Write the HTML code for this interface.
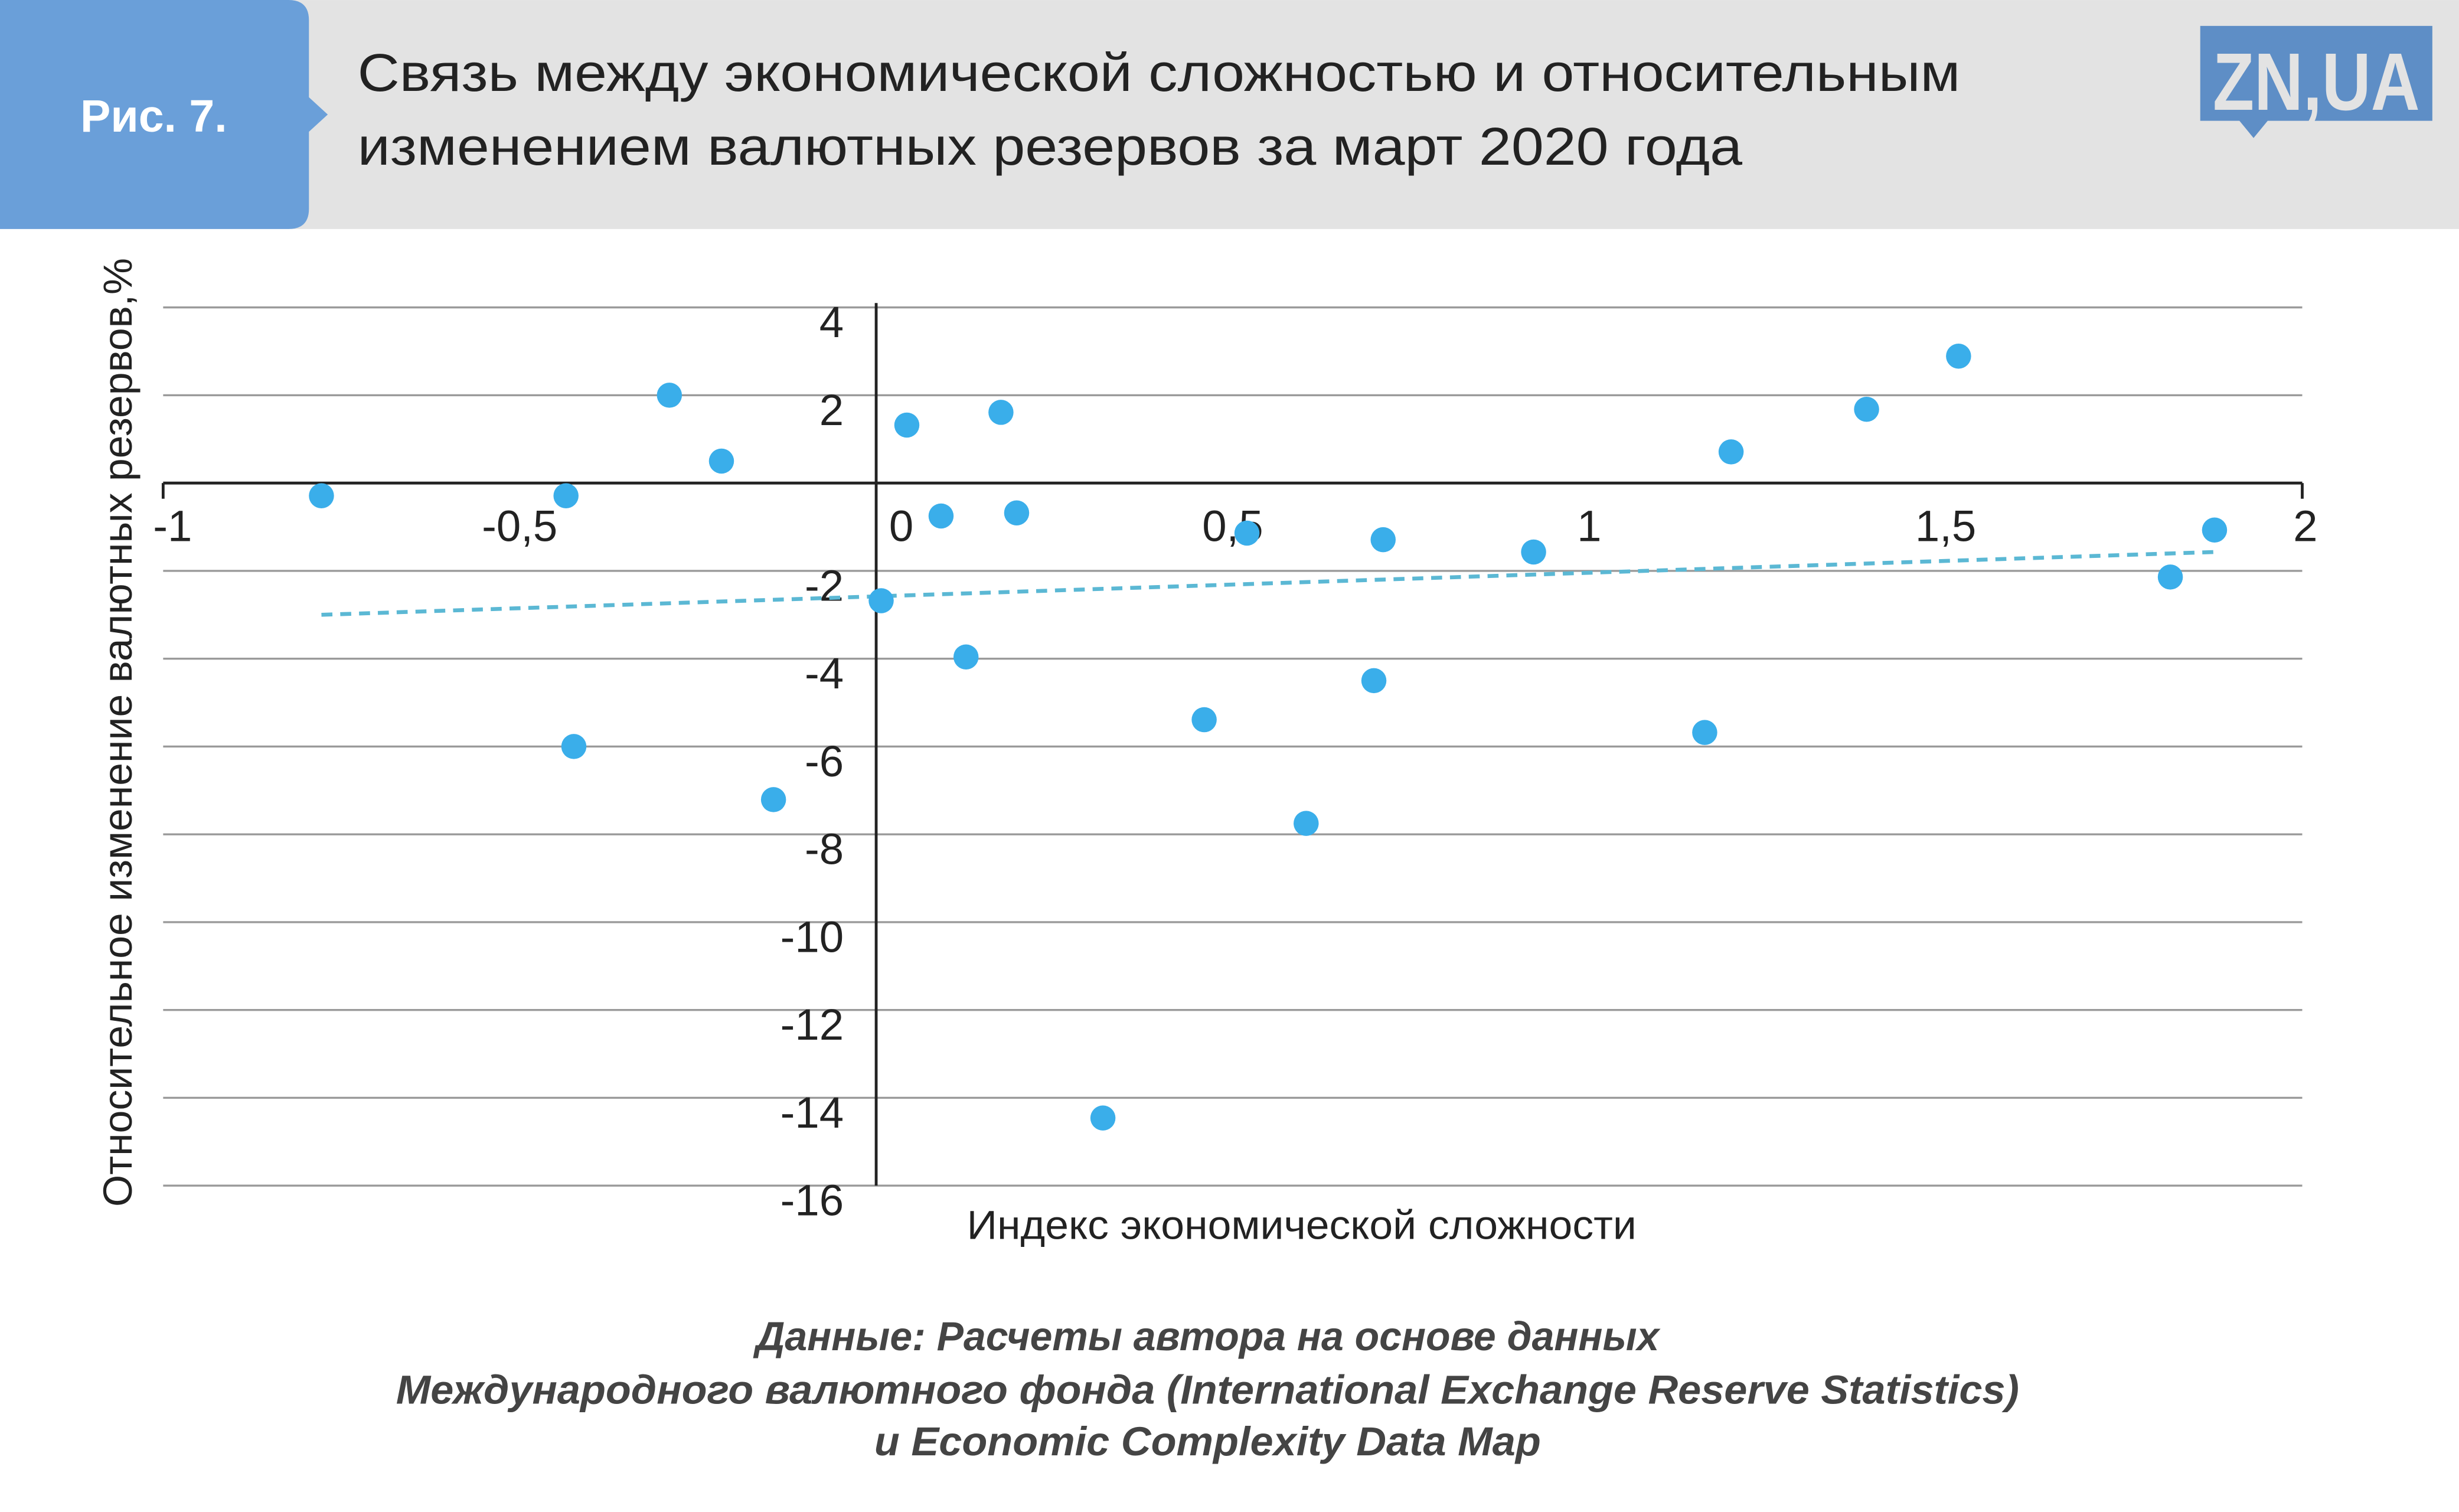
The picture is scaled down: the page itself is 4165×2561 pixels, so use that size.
<!DOCTYPE html>
<html><head><meta charset="utf-8"><style>
html,body{margin:0;padding:0;background:#fff}
svg{display:block}
text{font-family:"Liberation Sans",sans-serif}
</style></head><body>
<svg id="chart" width="4165" height="2561" viewBox="0 0 1568 964.1" xmlns="http://www.w3.org/2000/svg">
<g>
<rect x="0" y="0" width="1568" height="146" fill="#e3e3e3"/>
<path d="M0,0 H184 Q197,0 197,13 V62 L209,73 L197,84 V133 Q197,146 184,146 H0 Z" fill="#6a9fd9"/>
<text x="98" y="84" font-size="29" font-weight="bold" fill="#fff" text-anchor="middle">Рис. 7.</text>
<text x="228" y="58" font-size="34" fill="#222" textLength="1022" lengthAdjust="spacingAndGlyphs">Связь между экономической сложностью и относительным</text>
<text x="228" y="105" font-size="34" fill="#222" textLength="883" lengthAdjust="spacingAndGlyphs">изменением валютных резервов за март 2020 года</text>
<g>
<path d="M1403,16.5 H1551 V77 H1446 L1437,88 L1428,77 H1403 Z" fill="#5e8ec6"/>
<text x="1477" y="70" font-size="52" font-weight="bold" fill="#e3e3e3" text-anchor="middle" textLength="132" lengthAdjust="spacingAndGlyphs">ZN,UA</text>
</g>
</g>
<g id="grid"></g>
<g id="axes"></g>
<g id="trend"></g>
<g id="points"></g>
<text x="0" y="0" transform="translate(84,467) rotate(-90)" font-size="26" fill="#222" text-anchor="middle" textLength="605" lengthAdjust="spacingAndGlyphs">Относительное изменение валютных резервов,%</text>
<text x="830" y="790" font-size="26" fill="#222" text-anchor="middle" textLength="427" lengthAdjust="spacingAndGlyphs">Индекс экономической сложности</text>
<g font-size="26" font-style="italic" font-weight="bold" fill="#444" text-anchor="middle">
<text x="770" y="861" textLength="576" lengthAdjust="spacingAndGlyphs">Данные: Расчеты автора на основе данных</text>
<text x="770" y="895" textLength="1035" lengthAdjust="spacingAndGlyphs">Международного валютного фонда (International Exchange Reserve Statistics)</text>
<text x="770" y="928" textLength="425" lengthAdjust="spacingAndGlyphs">и Economic Complexity Data Map</text>
</g>
</svg>
<script>
const xTicks = [-1, -0.5, 0, 0.5, 1, 1.5, 2];
const xTickLabels = ["-1", "-0,5", "0", "0,5", "1", "1,5", "2"];
const yTicks = [4, 2, 0, -2, -4, -6, -8, -10, -12, -14, -16];
const yTickLabels = ["4", "2", "", "-2", "-4", "-6", "-8", "-10", "-12", "-14", "-16"];
const xValues = [-0.778, -0.435, -0.290, -0.217, -0.424, -0.144, 0.007, 0.043, 0.091, 0.126, 0.175, 0.197, 0.318, 0.460, 0.520, 0.603, 0.698, 0.711, 0.922, 1.162, 1.199, 1.389, 1.518, 1.815, 1.877];
const yValues = [-0.29, -0.29, 2.0, 0.5, -6.0, -7.21, -2.68, 1.32, -0.75, -3.96, 1.61, -0.68, -14.46, -5.39, -1.14, -7.75, -4.5, -1.29, -1.57, -5.68, 0.71, 1.68, 2.89, -2.14, -1.07];
const trendX = [-0.778, 1.877];
const trendY = [-3.0, -1.57];

const NS = "http://www.w3.org/2000/svg";
const X = v => 558.7 + (v) * 454.67;
const Y = v => 308 - v * 28;
function mk(tag, attrs, parent) {
  const e = document.createElementNS(NS, tag);
  for (const k in attrs) e.setAttribute(k, attrs[k]);
  parent.appendChild(e);
  return e;
}
const grid = document.getElementById('grid');
const axes = document.getElementById('axes');
yTicks.forEach((t, i) => {
  if (t !== 0) {
    const l = mk('line', {x1: X(-1), x2: X(2), y1: Y(t), y2: Y(t), stroke: '#9a9a9a', 'stroke-width': 1.3}, grid);
    
    
  }
  if (yTickLabels[i]) {
    const tx = mk('text', {x: 538, y: Y(t) + 19, 'font-size': 28, fill: '#222', 'text-anchor': 'end'}, axes);
    tx.textContent = yTickLabels[i];
    
    
  }
});
const xl = mk('line', {x1: X(-1), x2: X(2), y1: Y(0), y2: Y(0), stroke: '#222', 'stroke-width': 1.8}, axes);


const yl = mk('line', {x1: X(0), x2: X(0), y1: Y(4.1), y2: Y(-16), stroke: '#222', 'stroke-width': 1.8}, axes);


[-1, 2].forEach(t => {
  const tk = mk('line', {x1: X(t), x2: X(t), y1: Y(0), y2: Y(0) + 10, stroke: '#222', 'stroke-width': 1.8}, axes);
  
  
});
xTicks.forEach((t, i) => {
  const off = t === 0 ? 16 : (t === -1 ? 6 : (t === 2 ? 2 : 0));
  const tx = mk('text', {x: X(t) + off, y: Y(0) + 37, 'font-size': 28, fill: '#222', 'text-anchor': 'middle'}, axes);
  tx.textContent = xTickLabels[i];
  
  
});
const trend = document.getElementById('trend');
const tl = mk('line', {x1: X(trendX[0]), y1: Y(trendY[0]), x2: X(trendX[1]), y2: Y(trendY[1]), stroke: '#5bb8d4', 'stroke-width': 2.5, 'stroke-dasharray': '7,5'}, trend);


const pts = document.getElementById('points');
xValues.forEach((xv, i) => {
  const c = mk('circle', {cx: X(xv), cy: Y(yValues[i]), r: 8, fill: '#3aaeea'}, pts);
  
  
});
</script>
</body></html>
